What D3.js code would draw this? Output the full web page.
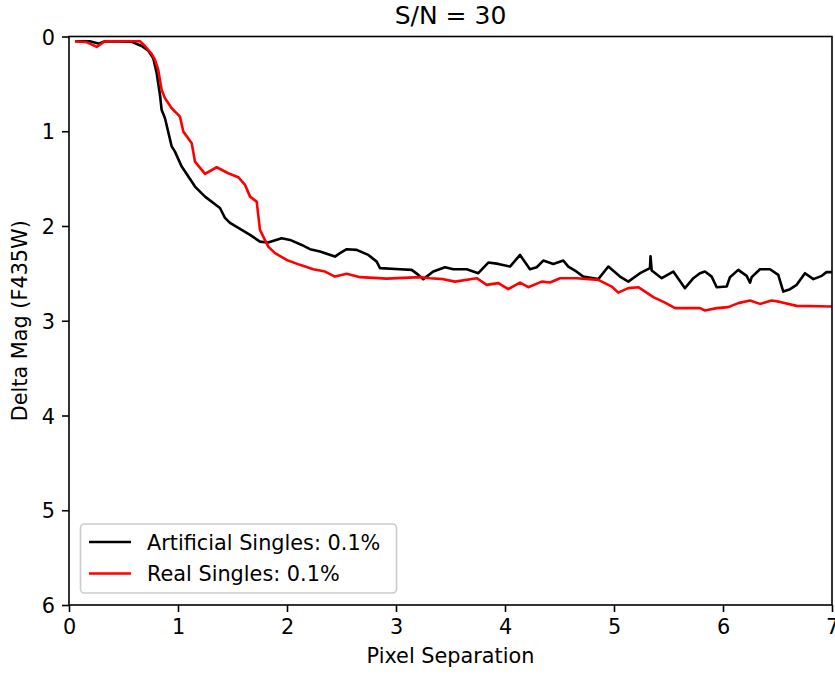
<!DOCTYPE html>
<html>
<head>
<meta charset="utf-8">
<script src="https://cdn.jsdelivr.net/npm/d3@7"></script>
<style>
  body { margin: 0; background: #fff; }
  svg { display: block; font-family: "DejaVu Sans", sans-serif; }
</style>
</head>
<body>
<svg id="chart" width="835" height="675"></svg>
<script>
// Artificial singles: pixel separation vs delta magnitude
const artSep = [0.055,0.19,0.27,0.33,0.575,0.667,0.728,0.773,0.805,0.835,0.85,0.88,0.942,0.972,1.034,1.156,1.248,1.385,1.431,1.477,1.661,1.752,1.826,1.951,2.028,2.135,2.211,2.303,2.44,2.486,2.548,2.639,2.746,2.823,2.853,3.037,3.144,3.205,3.25,3.342,3.45,3.526,3.649,3.755,3.847,3.939,4.046,4.138,4.229,4.291,4.351,4.443,4.535,4.581,4.642,4.718,4.856,4.948,5.055,5.131,5.239,5.33,5.335,5.346,5.438,5.544,5.651,5.728,5.789,5.835,5.896,5.942,6.034,6.064,6.14,6.217,6.248,6.263,6.339,6.431,6.507,6.553,6.615,6.676,6.752,6.829,6.906,6.95,7.0];
const artMag = [0.05,0.05,0.075,0.05,0.055,0.1,0.15,0.23,0.39,0.62,0.775,0.86,1.16,1.215,1.373,1.584,1.69,1.81,1.915,1.967,2.094,2.165,2.175,2.129,2.147,2.2,2.245,2.27,2.323,2.287,2.245,2.252,2.305,2.376,2.445,2.456,2.463,2.516,2.561,2.481,2.435,2.456,2.456,2.498,2.386,2.4,2.428,2.305,2.456,2.435,2.365,2.4,2.365,2.428,2.47,2.534,2.561,2.428,2.534,2.587,2.498,2.445,2.32,2.47,2.551,2.481,2.656,2.551,2.498,2.481,2.534,2.646,2.639,2.54,2.463,2.526,2.597,2.54,2.456,2.456,2.516,2.692,2.667,2.621,2.498,2.561,2.526,2.487,2.487];

// Real singles
const realSep = [0.055,0.162,0.254,0.33,0.651,0.697,0.759,0.789,0.819,0.85,0.881,0.942,1.018,1.049,1.126,1.156,1.248,1.355,1.461,1.553,1.615,1.661,1.722,1.752,1.828,1.89,1.997,2.119,2.241,2.349,2.44,2.548,2.67,2.915,3.22,3.312,3.434,3.541,3.74,3.832,3.939,4.03,4.138,4.214,4.337,4.413,4.505,4.658,4.856,4.979,5.039,5.131,5.223,5.361,5.468,5.56,5.789,5.835,5.942,6.049,6.14,6.248,6.339,6.446,6.523,6.676,7.0];
const realMag = [0.05,0.06,0.11,0.05,0.05,0.1,0.185,0.248,0.353,0.564,0.652,0.757,0.846,1.004,1.127,1.321,1.45,1.38,1.443,1.485,1.566,1.69,1.743,2.041,2.217,2.287,2.358,2.41,2.456,2.481,2.534,2.505,2.54,2.555,2.54,2.551,2.561,2.587,2.551,2.621,2.603,2.667,2.597,2.646,2.587,2.597,2.551,2.551,2.569,2.639,2.703,2.656,2.646,2.751,2.808,2.867,2.867,2.892,2.867,2.856,2.814,2.787,2.822,2.787,2.801,2.843,2.85];

const xTicks = [0,1,2,3,4,5,6,7];
const yTicks = [0,1,2,3,4,5,6];
const seriesNames = ["Artificial Singles: 0.1%", "Real Singles: 0.1%"];
const seriesColors = ["#000000", "#ff0000"];

const svg = d3.select("#chart");
const plotLeft = 69, plotRight = 832, plotTop = 36.5, plotBottom = 605;
const fs = 20.8;   // 10pt at 150 dpi

const x = d3.scaleLinear().domain([0, 7]).range([plotLeft, plotRight]);
const y = d3.scaleLinear().domain([0, 6]).range([plotTop, plotBottom]);

// Axes
const xAxis = d3.axisBottom(x).tickValues(xTicks).tickFormat(d3.format("d")).tickSize(7).tickPadding(7);
const yAxis = d3.axisLeft(y).tickValues(yTicks).tickFormat(d3.format("d")).tickSize(7).tickPadding(7);

const gx = svg.append("g").attr("transform", `translate(0,${plotBottom})`).call(xAxis);
const gy = svg.append("g").attr("transform", `translate(${plotLeft},0)`).call(yAxis);
[gx, gy].forEach(g => {
  g.select(".domain").remove();
  g.selectAll(".tick line").attr("stroke", "#000").attr("stroke-width", 1.6);
  g.selectAll(".tick text").attr("fill", "#000").attr("font-size", fs).attr("font-family", "DejaVu Sans");
});
gx.selectAll(".tick text").attr("dy", "0.74em");
gy.selectAll(".tick text").attr("dy", "0.36em");

// Lines
svg.append("clipPath").attr("id", "plotclip")
  .append("rect").attr("x", plotLeft).attr("y", plotTop)
  .attr("width", plotRight - plotLeft).attr("height", plotBottom - plotTop);

const line = d3.line().x(d => x(d[0])).y(d => y(d[1]));
const artData = artSep.map((s, i) => [s, artMag[i]]);
const realData = realSep.map((s, i) => [s, realMag[i]]);

const plot = svg.append("g").attr("clip-path", "url(#plotclip)");
plot.append("path").datum(artData).attr("d", line)
  .attr("fill", "none").attr("stroke", seriesColors[0]).attr("stroke-width", 2.6).attr("stroke-linejoin", "round");
plot.append("path").datum(realData).attr("d", line)
  .attr("fill", "none").attr("stroke", seriesColors[1]).attr("stroke-width", 2.6).attr("stroke-linejoin", "round");

// Frame
svg.append("rect").attr("x", plotLeft).attr("y", plotTop)
  .attr("width", plotRight - plotLeft).attr("height", plotBottom - plotTop)
  .attr("fill", "none").attr("stroke", "#000").attr("stroke-width", 1.6);

// Title and axis labels
svg.append("text").attr("x", (plotLeft + plotRight) / 2).attr("y", 24).attr("text-anchor", "middle")
  .attr("font-size", 25).attr("fill", "#000").text("S/N = 30");
svg.append("text").attr("x", (plotLeft + plotRight) / 2).attr("y", 663).attr("text-anchor", "middle")
  .attr("font-size", fs).attr("fill", "#000").text("Pixel Separation");
svg.append("text").attr("transform", `translate(27,${(plotTop + plotBottom) / 2}) rotate(-90)`).attr("text-anchor", "middle")
  .attr("font-size", fs).attr("fill", "#000").text("Delta Mag (F435W)");

// Legend
const lg = svg.append("g");
lg.append("rect").attr("x", 80.5).attr("y", 524).attr("width", 316).attr("height", 69).attr("rx", 4)
  .attr("fill", "#fff").attr("fill-opacity", 0.8).attr("stroke", "#cccccc").attr("stroke-width", 1.6);
seriesNames.forEach((name, i) => {
  const ly = 542 + i * 31.5;
  lg.append("line").attr("x1", 89).attr("x2", 131).attr("y1", ly).attr("y2", ly)
    .attr("stroke", seriesColors[i]).attr("stroke-width", 2.6);
  lg.append("text").attr("x", 147).attr("y", ly + 7.5).attr("font-size", fs).attr("fill", "#000").text(name);
});
</script>
</body>
</html>
